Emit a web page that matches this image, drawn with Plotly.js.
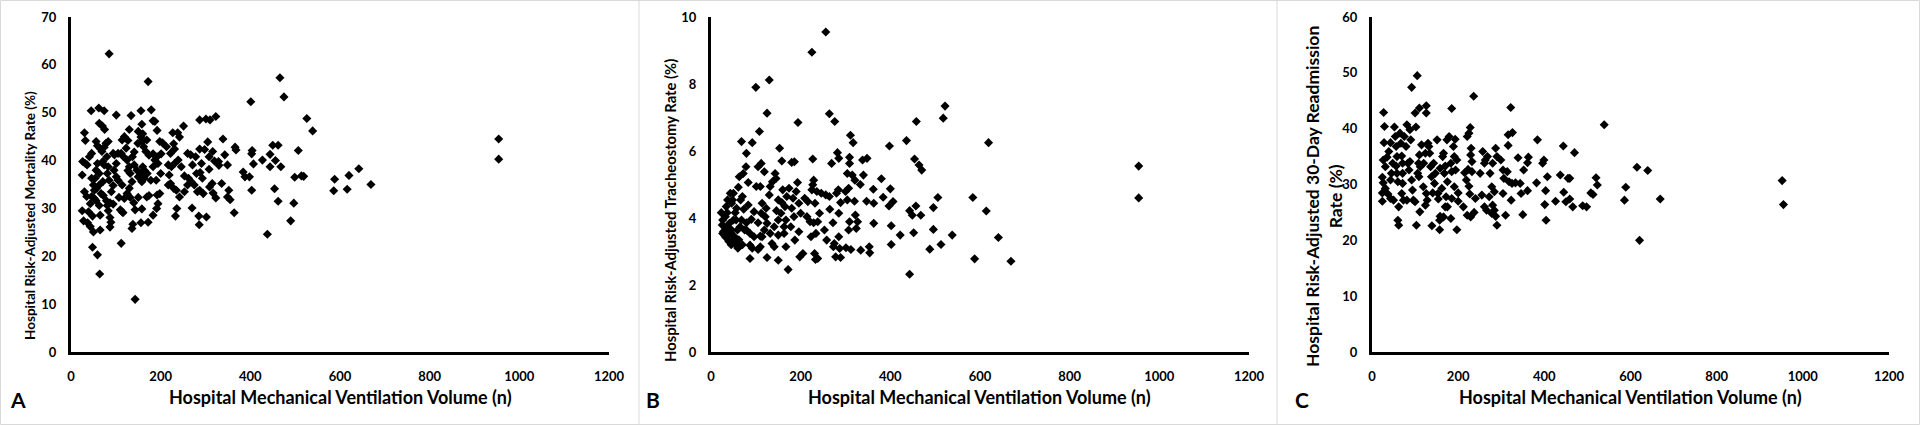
<!DOCTYPE html>
<html>
<head>
<meta charset="utf-8">
<script src="https://cdn.plot.ly/plotly-3.0.1.min.js"></script>
<style>
  html, body { margin: 0; padding: 0; background: #fff; }
  #chart { width: 1920px; height: 425px; }
</style>
</head>
<body>
<div id="chart"></div>
<script>
// ---- Data ----
// Panel A: [hospital MV volume, risk-adjusted mortality rate %]
const mortalityPoints = [
  [85,62.3],[172,56.5],[466,57.3],[475,53.3],[401,52.3],[526,48.8],[539,46.2],[954,44.5],[954,40.3],[642,38.3],
  [620,36.9],[588,36.1],[586,33.7],[616,34.0],[669,35.0],[507,42.1],[499,36.5],[519,36.7],[514,36.8],[497,31.1],
  [490,27.4],[438,24.6],[462,31.5],[454,34.1],[450,43.2],[462,43.2],[444,41.3],[444,38.7],[456,40.0],[468,38.7],
  [427,40.1],[404,42.1],[403,41.4],[407,39.3],[398,36.6],[403,33.8],[384,37.6],[388,36.6],[339,44.5],[366,42.8],
  [368,42.2],[343,41.2],[349,39.1],[336,35.2],[352,33.8],[349,32.4],[355,31.8],[364,29.1],[323,49.2],[310,48.5],
  [301,48.7],[287,48.5],[305,43.9],[316,41.9],[308,40.8],[320,39.9],[329,39.8],[315,35.2],[309,34.5],[317,33.2],
  [323,32.2],[302,28.2],[285,28.4],[286,26.6],[295,33.1],[287,33.8],[282,33.5],[293,36.3],[288,37.5],[291,39.4],
  [287,42.4],[278,40.8],[267,41.2],[260,41.5],[271,39.1],[270,30.1],[268,35.6],[260,34.9],[253,36.8],[251,47.2],
  [238,45.8],[227,45.8],[229,43.5],[231,42.4],[239,40.1],[231,39.4],[224,38.7],[217,39.1],[219,37.0],[222,35.2],
  [217,34.9],[229,34.2],[235,33.8],[242,32.4],[253,33.5],[236,30.0],[233,28.4],[204,43.7],[198,44.0],[192,46.3],
  [187,48.2],[183,48.3],[179,50.6],[156,50.4],[158,47.6],[150,46.1],[160,45.6],[156,44.9],[149,43.6],[160,44.0],
  [169,44.3],[162,42.9],[167,41.9],[174,41.1],[183,41.4],[192,40.8],[201,41.4],[187,40.1],[194,39.4],[183,38.7],
  [200,37.3],[190,35.9],[198,33.1],[192,32.8],[194,31.0],[191,30.0],[183,28.6],[174,32.7],[172,27.1],[156,27.0],
  [158,29.9],[150,32.3],[143,29.7],[140,31.2],[138,26.7],[136,25.8],[143,11.0],[160,38.7],[155,37.3],[150,36.6],
  [163,36.3],[158,35.6],[147,38.0],[141,39.1],[137,40.8],[141,41.8],[134,49.4],[130,46.5],[127,44.2],[119,45.0],
  [114,44.3],[123,42.6],[112,41.5],[117,40.8],[125,40.1],[130,38.7],[127,37.9],[132,37.3],[136,35.6],[130,34.2],
  [125,33.1],[132,32.3],[119,32.1],[114,34.9],[107,32.3],[110,29.7],[116,29.1],[112,22.7],[101,49.5],[105,41.5],
  [97,41.2],[94,41.5],[101,39.4],[96,38.0],[101,36.6],[105,35.9],[94,34.8],[90,33.5],[85,35.9],[87,31.2],
  [81,37.3],[83,38.7],[83,44.0],[78,43.6],[74,50.4],[75,46.5],[70,47.2],[62,51.0],[63,47.8],[59,43.1],
  [56,44.0],[65,42.5],[69,41.9],[71,39.8],[74,39.1],[59,39.4],[56,38.0],[63,37.3],[54,36.3],[71,35.6],
  [63,34.9],[57,34.2],[52,33.8],[67,33.1],[72,32.7],[79,31.6],[81,30.6],[83,29.5],[87,28.1],[89,27.1],
  [87,26.1],[65,28.6],[63,30.6],[65,25.5],[59,20.3],[64,16.3],[48,21.9],[50,25.1],[43,26.2],[37,27.0],
  [28,27.4],[25,29.5],[39,29.3],[43,31.0],[46,32.5],[35,32.5],[30,33.5],[25,37.0],[26,39.8],[32,39.4],
  [36,39.1],[41,40.8],[46,41.5],[32,44.2],[30,45.8],[45,50.4],[50,34.9],[46,36.3],[52,32.1],[48,28.4],
  [74,42.8],[80,40.8],[56,31.6],[94,30.9],[114,29.3],[164,37.9],[170,37.3],[178,35.9],[169,32.4],[213,42.9],
  [222,41.5],[242,44.9],[246,38.7],[262,36.3],[275,34.9],[280,37.3],[298,42.3],[308,38.2],[330,39.0]
];

// Panel B: [hospital MV volume, risk-adjusted tracheostomy rate %]
const tracheostomyPoints = [
  [256,9.55],[225,8.95],[130,8.12],[100,7.90],[125,7.13],[108,6.58],[68,6.28],[92,6.25],[79,5.93],[153,6.08],
  [194,6.85],[264,7.11],[276,6.88],[522,7.34],[518,6.98],[458,6.88],[436,6.31],[398,6.15],[619,6.25],[311,6.47],
  [317,6.25],[227,5.76],[282,5.95],[285,5.78],[309,5.81],[309,5.63],[338,5.73],[348,5.78],[269,5.63],[158,5.70],
  [180,5.66],[186,5.68],[454,5.76],[464,5.58],[470,5.43],[954,5.55],[954,4.60],[584,4.61],[506,4.61],[614,4.21],
  [641,3.42],[588,2.78],[669,2.71],[538,3.49],[513,3.21],[496,3.66],[488,3.07],[496,4.31],[468,4.08],[457,4.36],
  [443,4.22],[449,4.08],[452,3.56],[443,2.32],[422,3.49],[402,3.21],[402,3.77],[397,4.36],[406,4.49],[400,4.87],
  [384,4.62],[380,5.17],[362,4.86],[363,4.44],[363,3.84],[347,4.50],[340,5.28],[333,5.00],[353,3.14],[354,2.96],
  [334,3.04],[312,3.06],[301,3.11],[289,2.82],[278,2.84],[273,3.14],[285,3.44],[327,3.89],[322,4.09],[309,3.89],
  [307,3.64],[324,3.69],[320,4.50],[304,4.54],[300,4.79],[307,4.89],[315,5.28],[304,5.33],[321,5.13],[289,4.46],
  [285,4.14],[272,3.86],[265,4.26],[264,4.64],[280,4.74],[284,4.84],[256,4.69],[246,4.74],[236,4.79],[229,5.13],
  [227,4.99],[232,4.44],[225,4.84],[216,4.49],[214,4.04],[221,3.89],[229,3.86],[238,3.89],[242,4.14],[223,3.44],
  [234,3.54],[231,2.94],[233,2.76],[238,2.79],[253,3.64],[258,3.34],[275,3.24],[287,3.09],[205,2.94],[198,2.84],
  [196,3.59],[187,3.34],[185,4.04],[180,4.29],[183,4.59],[190,4.79],[193,5.06],[196,4.44],[200,4.14],[174,4.89],
  [169,4.64],[165,4.34],[167,3.94],[163,3.54],[167,3.14],[172,2.46],[150,2.74],[156,4.14],[158,4.46],[160,4.84],
  [150,4.54],[146,4.22],[150,3.94],[141,3.74],[145,5.18],[143,5.33],[137,5.08],[132,4.94],[130,4.69],[123,4.29],
  [121,4.04],[125,3.84],[132,3.54],[136,3.24],[141,3.14],[125,2.82],[114,4.44],[112,4.14],[119,5.38],[112,5.63],
  [105,5.53],[101,4.94],[110,4.94],[105,3.86],[110,3.46],[110,3.14],[105,3.06],[96,4.19],[90,3.96],[87,3.54],
  [83,4.39],[83,5.06],[78,5.53],[72,5.33],[63,5.23],[61,4.92],[87,3.19],[87,2.79],[75,3.64],[68,3.94],
  [73,4.26],[70,4.64],[66,4.54],[57,4.29],[56,3.94],[59,3.64],[59,3.14],[50,3.34],[46,3.64],[50,3.94],
  [46,4.44],[43,4.74],[48,4.54],[37,4.54],[34,4.34],[32,4.04],[26,3.94],[23,4.16],[25,3.79],[26,3.54],
  [32,3.44],[39,3.49],[34,3.64],[37,3.74],[41,3.84],[65,3.74],[79,3.64],[96,3.44],[114,3.44],[150,3.49],
  [163,3.74],[50,4.74],[36,4.16],[54,4.16],[79,3.86],[119,3.64],[178,3.74],[209,4.59],[28,3.60],[30,3.50],
  [35,3.40],[40,3.30],[44,3.55],[52,3.45],[55,3.25],[62,3.35],[45,3.20],[60,3.10],[70,3.20],[92,3.10]
];

// Panel C: [hospital MV volume, risk-adjusted 30-day readmission rate %]
const readmissionPoints = [
  [105,49.5],[92,47.4],[27,42.9],[100,42.8],[110,43.7],[126,44.1],[126,42.8],[185,43.6],[236,45.8],[322,43.8],
  [539,40.7],[384,38.0],[316,38.9],[326,39.3],[316,37.0],[228,40.2],[225,39.2],[221,38.6],[230,36.5],[229,35.3],
  [232,34.1],[223,32.7],[232,32.3],[215,32.1],[219,30.8],[225,29.7],[227,28.3],[240,27.5],[221,24.5],[229,24.2],
  [237,25.0],[251,32.0],[257,35.9],[261,33.8],[263,34.4],[268,35.0],[255,28.1],[261,26.0],[266,25.4],[272,27.8],
  [278,29.6],[274,32.0],[280,33.8],[287,36.5],[290,35.0],[299,34.4],[304,32.6],[306,31.1],[304,28.4],[284,28.7],
  [280,26.3],[284,25.4],[287,24.3],[290,22.7],[278,24.8],[310,24.5],[314,32.3],[318,30.5],[323,27.2],[325,30.2],
  [333,30.3],[344,30.2],[346,28.4],[339,34.8],[352,32.6],[361,33.9],[363,34.9],[361,28.9],[350,24.6],[382,30.3],
  [396,33.8],[399,34.4],[407,31.4],[403,28.9],[401,26.4],[404,23.6],[426,27.0],[437,31.7],[445,28.6],[444,36.9],
  [455,31.1],[459,31.1],[450,26.9],[459,27.4],[466,26.0],[470,35.7],[489,26.2],[498,26.0],[508,28.5],[513,28.2],
  [520,31.2],[523,29.9],[586,27.2],[589,29.5],[615,33.1],[640,32.5],[669,27.4],[621,20.0],[952,30.7],[955,26.4],
  [29,40.4],[28,37.5],[26,34.4],[31,33.2],[24,31.3],[26,30.3],[31,29.3],[24,28.5],[37,28.3],[24,27.0],
  [35,34.9],[39,35.9],[43,37.5],[48,33.8],[45,32.0],[43,30.8],[43,27.5],[50,27.2],[52,40.3],[54,38.6],
  [56,36.8],[58,35.0],[56,33.3],[58,32.0],[60,30.5],[62,26.0],[60,23.6],[62,22.7],[65,39.2],[67,37.4],
  [69,35.1],[71,33.8],[71,32.0],[71,30.2],[69,28.4],[73,27.2],[75,38.6],[79,36.8],[81,40.7],[83,33.8],
  [86,32.6],[88,39.8],[90,38.0],[88,34.1],[92,30.8],[94,29.0],[96,27.2],[100,26.9],[102,40.3],[108,33.8],
  [106,32.0],[103,22.7],[110,35.3],[112,33.2],[111,25.1],[115,37.1],[119,29.6],[120,33.8],[124,35.6],[126,28.4],
  [124,26.3],[128,27.2],[130,37.4],[132,36.8],[134,35.6],[136,33.2],[138,31.4],[139,22.6],[141,28.5],[143,33.8],
  [147,32.0],[145,30.2],[151,38.0],[153,28.4],[154,27.4],[157,23.6],[157,21.9],[158,24.3],[162,29.3],[164,35.0],
  [166,35.6],[168,32.0],[170,26.0],[172,27.8],[174,38.0],[175,30.5],[179,38.6],[183,33.8],[185,32.3],[185,27.5],
  [183,23.9],[189,36.8],[191,35.0],[191,29.6],[194,32.6],[197,34.4],[197,21.9],[200,27.0],[193,38.1],[166,24.2],
  [175,26.0],[81,27.2],[109,31.4],[158,32.9],[170,33.3],[212,26.0],[200,28.5]
];

const xTickValues = [0, 200, 400, 600, 800, 1000, 1200];
const xTitle = 'Hospital Mechanical Ventilation Volume (n)';
const yTitles = [
  'Hospital Risk-Adjusted Mortality Rate (%)',
  'Hospital Risk-Adjusted Tracheostomy Rate (%)',
  'Hospital Risk-Adjusted 30-Day Readmission<br>Rate (%)'
];
const panelLetters = ['A', 'B', 'C'];
const yRanges = [[0, 70], [0, 10], [0, 60]];
const yDticks = [10, 2, 10];

// ---- Layout helpers ----
const W = 1920, H = 425;
const FONT = 'Lato, "Open Sans", sans-serif';
const px = v => v / W;
const py = v => (H - v) / H;

const plotLeft = [71, 711, 1372];
const plotRight = [609, 1249, 1889];
const plotTop = 17, plotBottom = 352;

function mkTrace(points, i) {
  const s = i === 0 ? '' : String(i + 1);
  return {
    type: 'scatter', mode: 'markers',
    x: points.map(p => p[0]), y: points.map(p => p[1]),
    xaxis: 'x' + s, yaxis: 'y' + s,
    marker: { symbol: 'diamond', size: 7, color: '#000', line: { width: 0 } },
    hoverinfo: 'x+y'
  };
}

const data = [
  mkTrace(mortalityPoints, 0),
  mkTrace(tracheostomyPoints, 1),
  mkTrace(readmissionPoints, 2)
];

const tickFont = { family: FONT, size: 13, color: '#000', weight: 'bold' };
const layout = {
  width: W, height: H,
  margin: { l: 0, r: 0, t: 0, b: 0 },
  paper_bgcolor: '#fff', plot_bgcolor: '#fff',
  showlegend: false,
  font: { family: FONT, color: '#000' },
  annotations: [], shapes: []
};

for (let i = 0; i < 3; i++) {
  const s = i === 0 ? '' : String(i + 1);
  layout['xaxis' + s] = {
    domain: [px(plotLeft[i]), px(plotRight[i])],
    anchor: 'y' + s, range: [0, 1200],
    tickvals: xTickValues, ticks: '',
    showline: true, linewidth: 3, linecolor: '#000',
    showgrid: false, zeroline: false,
    tickfont: tickFont, ticklabelstandoff: 10,
    fixedrange: true, automargin: false
  };
  layout['yaxis' + s] = {
    domain: [py(plotBottom), py(plotTop)],
    anchor: 'x' + s, range: yRanges[i], dtick: yDticks[i], tick0: 0, ticks: '',
    showline: true, linewidth: 3, linecolor: '#000',
    showgrid: false, zeroline: false,
    tickfont: tickFont, ticklabelstandoff: 9,
    fixedrange: true, automargin: false
  };
  // x-axis title
  layout.annotations.push({
    xref: 'paper', yref: 'paper',
    x: px((plotLeft[i] + plotRight[i]) / 2), y: py(397),
    xanchor: 'center', yanchor: 'middle', showarrow: false,
    text: xTitle, font: { family: FONT, size: 18, color: '#000', weight: 'bold' }
  });
  // panel letter
  layout.annotations.push({
    xref: 'paper', yref: 'paper',
    x: px([18, 653, 1302][i]), y: py(399),
    xanchor: 'center', yanchor: 'middle', showarrow: false,
    text: panelLetters[i], font: { family: FONT, size: 21, color: '#000', weight: 'bold' }
  });
}

// y-axis titles (each source chart used its own title size)
const yTitleX = [30, 670, 1324];
const yTitleY = [216, 211, 197];
const yTitleSize = [13.5, 14.8, 17.5];
for (let i = 0; i < 3; i++) {
  layout.annotations.push({
    xref: 'paper', yref: 'paper',
    x: px(yTitleX[i]), y: py(yTitleY[i]),
    xanchor: 'center', yanchor: 'middle', showarrow: false,
    textangle: -90,
    text: yTitles[i], font: { family: FONT, size: yTitleSize[i], color: '#000', weight: 'bold' }
  });
}

// light grey panel frame and separators
const grey = '#d9d9d9';
layout.shapes.push({ type: 'rect', xref: 'paper', yref: 'paper', x0: px(0.5), x1: px(1919.5), y0: py(424.5), y1: py(0.5), line: { color: grey, width: 1 } });
[639, 1277].forEach(xv => layout.shapes.push({
  type: 'line', xref: 'paper', yref: 'paper', x0: px(xv), x1: px(xv), y0: py(424.5), y1: py(0.5), line: { color: grey, width: 1 }
}));

Plotly.newPlot('chart', data, layout, { staticPlot: true, displayModeBar: false });
</script>
</body>
</html>
